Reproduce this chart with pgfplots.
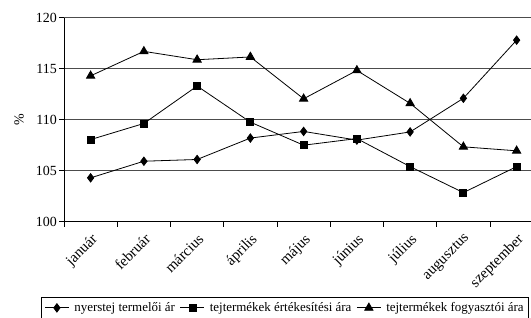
\documentclass[border=0pt]{standalone}
\usepackage{pgfplots}
\pgfplotsset{compat=1.18}
\usepackage{fontspec}
\setmainfont{Liberation Serif}
\begin{document}
\begin{tikzpicture}
\path[use as bounding box] (0,0) rectangle (531bp,318bp);
\clip (0,0) rectangle (531bp,318bp);
\begin{axis}[
  at={(64bp,96.3bp)}, anchor=south west,
  scale only axis, width=467bp, height=204bp,
  xmin=-0.5, xmax=8.27, ymin=100, ymax=120,
  axis x line*=bottom, axis y line*=left,
  axis line style={-, black, line width=0.8bp},
  ytick={100,105,110,115,120},
  ymajorgrids, grid style={black!70, line width=0.8bp},
  xtick={0,...,8},
  xticklabels={január,február,március,április,május,június,július,augusztus,szeptember},
  minor xtick={-0.5,0.5,...,7.5},
  major x tick style={draw=none},
  minor x tick style={black, line width=0.8bp},
  y tick style={black, line width=0.8bp},
  tick align=outside, major tick length=5bp, minor tick length=5bp,
  /pgf/number format/assume math mode=true,
  yticklabel style={font=\fontsize{14}{16}\selectfont, inner sep=2bp},
  xticklabel style={font=\fontsize{15}{17}\selectfont, rotate=45, anchor=north east, inner sep=1bp, xshift=-3bp, yshift=-3bp},
  ylabel={\%},
  every axis y label/.style={at={(axis description cs:-0.096,0.5)}, rotate=90, anchor=center, font=\fontsize{14}{16}\selectfont},
  legend columns=3,
  legend style={at={(axis description cs:-0.049,-0.37)}, anchor=north west,
    draw=black, line width=0.8bp, font=\fontsize{13}{15}\selectfont,
    inner xsep=3bp, inner ysep=3bp,
    nodes={inner xsep=2bp, inner ysep=2bp},
    /tikz/every even column/.append style={column sep=3bp},
    /tikz/every odd column/.append style={column sep=3bp}},
  legend image code/.code={\draw[mark repeat=2,mark phase=2] plot coordinates {(0bp,0bp) (12bp,0bp) (24bp,0bp)};},
  every axis plot/.append style={black, line width=0.8bp, mark options={solid, fill=black}},
]
\addplot[mark=diamond*, mark size=4.2bp] coordinates {(0,104.3) (1,105.93) (2,106.1) (3,108.2) (4,108.85) (5,108.0) (6,108.8) (7,112.1) (8,117.8)};
\addlegendentry{nyerstej termelői ár}
\addplot[mark=square*, mark size=3.5bp] coordinates {(0,108.05) (1,109.63) (2,113.3) (3,109.76) (4,107.5) (5,108.15) (6,105.4) (7,102.85) (8,105.4)};
\addlegendentry{tejtermékek értékesítési ára}
\addplot[mark=triangle*, mark size=4.8bp] coordinates {(0,114.3) (1,116.7) (2,115.88) (3,116.15) (4,112.05) (5,114.83) (6,111.6) (7,107.34) (8,106.95)};
\addlegendentry{tejtermékek fogyasztói ára}
\end{axis}
\end{tikzpicture}
\end{document}
